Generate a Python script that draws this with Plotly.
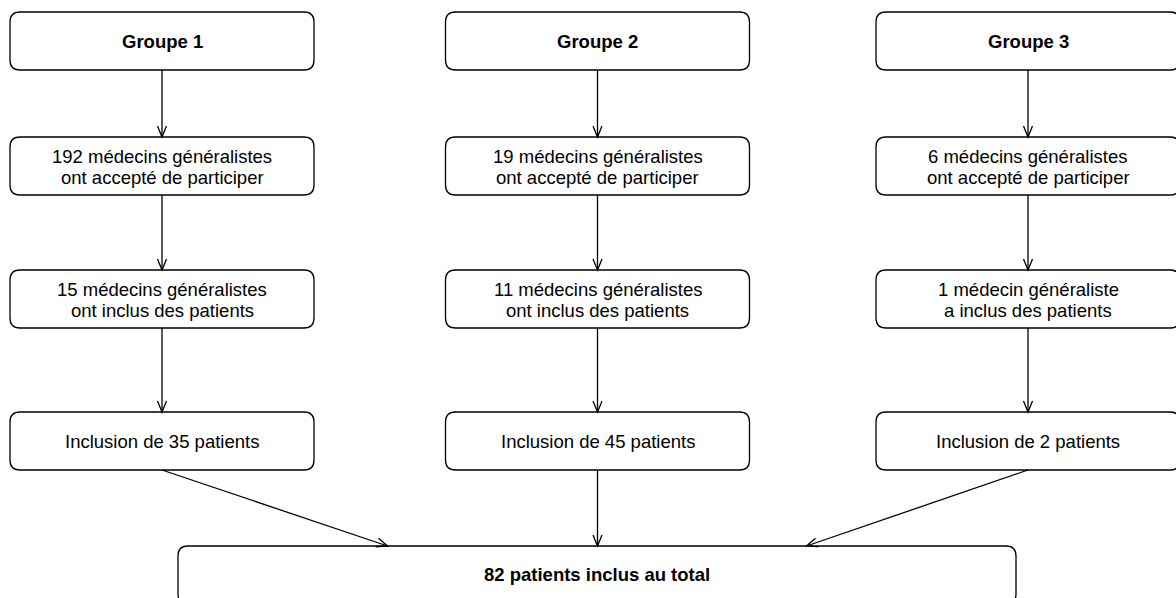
import math
import plotly.graph_objects as go

# ---- data ----
groups = ["Groupe 1", "Groupe 2", "Groupe 3"]
medecins_acceptes = [192, 19, 6]
medecins_inclueurs = [15, 11, 1]
patients_inclus = [35, 45, 2]
total_patients = 82

# ---- layout geometry (pixels) ----
W, H = 1176, 598
col_centers = [162, 597.5, 1028]
box_w, box_h = 304, 58
row_tops = [12, 137, 270, 412]
final_box = (178, 546, 1016, 604)
final_targets_dx = 209.5
radius = 10
lw = 1.3
font_family = "Liberation Sans, Arial, Helvetica, sans-serif"
fs = 18.5


def rrect(x0, y0, x1, y1, r):
    return (f"M {x0+r},{y0} L {x1-r},{y0} Q {x1},{y0} {x1},{y0+r} "
            f"L {x1},{y1-r} Q {x1},{y1} {x1-r},{y1} L {x0+r},{y1} "
            f"Q {x0},{y1} {x0},{y1-r} L {x0},{y0+r} Q {x0},{y0} {x0+r},{y0} Z")


shapes = []
annotations = []


def add_box(x0, y0, x1, y1):
    shapes.append(dict(type="path", path=rrect(x0, y0, x1, y1, radius),
                       line=dict(color="black", width=lw), fillcolor="white",
                       xref="x", yref="y", layer="below"))


def add_text(x, y, txt, bold=False):
    annotations.append(dict(x=x, y=y, xref="x", yref="y", text=f"<b>{txt}</b>" if bold else txt,
                            showarrow=False, xanchor="center", yanchor="middle",
                            font=dict(family=font_family, size=fs, color="black")))


def add_arrow(xa, ya, xb, yb, L=11, hw=4.5):
    shapes.append(dict(type="line", x0=xa, y0=ya, x1=xb, y1=yb, xref="x", yref="y",
                       line=dict(color="black", width=lw)))
    dx, dy = xb - xa, yb - ya
    d = math.hypot(dx, dy)
    ux, uy = dx / d, dy / d
    px, py = -uy, ux
    bx, by = xb - ux * L, yb - uy * L
    p1 = (bx + px * hw, by + py * hw)
    p2 = (bx - px * hw, by - py * hw)
    shapes.append(dict(type="path",
                       path=f"M {p1[0]},{p1[1]} L {xb},{yb} L {p2[0]},{p2[1]}",
                       line=dict(color="black", width=lw), xref="x", yref="y"))


row_lines = []
for i in range(3):
    n1, n2, n3 = medecins_acceptes[i], medecins_inclueurs[i], patients_inclus[i]
    l2 = [f"{n1} médecin{'s' if n1 > 1 else ''} généraliste{'s' if n1 > 1 else ''}",
          "ont accepté de participer" if n1 > 1 else "a accepté de participer"]
    l3 = [f"{n2} médecin{'s' if n2 > 1 else ''} généraliste{'s' if n2 > 1 else ''}",
          "ont inclus des patients" if n2 > 1 else "a inclus des patients"]
    l4 = [f"Inclusion de {n3} patient{'s' if n3 > 1 else ''}"]
    row_lines.append([[groups[i]], l2, l3, l4])

for i, cx in enumerate(col_centers):
    x0, x1 = cx - box_w / 2, cx + box_w / 2
    for r, top in enumerate(row_tops):
        add_box(x0, top, x1, top + box_h)
        lines = row_lines[i][r]
        cy = top + box_h / 2
        if len(lines) == 1:
            add_text(cx, cy, lines[0], bold=(r == 0))
        else:
            add_text(cx, cy - 10, lines[0])
            add_text(cx, cy + 11.5, lines[1])
        if r < len(row_tops) - 1:
            add_arrow(cx, top + box_h, cx, row_tops[r + 1])

fx0, fy0, fx1, fy1 = final_box
add_box(fx0, fy0, fx1, fy1)
fcx = (fx0 + fx1) / 2
add_text(fcx, (fy0 + fy1) / 2 - 0.5, f"{total_patients} patients inclus au total", bold=True)

bottom = row_tops[-1] + box_h
add_arrow(col_centers[0], bottom, fcx - final_targets_dx, fy0)
add_arrow(col_centers[1], bottom, col_centers[1], fy0)
add_arrow(col_centers[2], bottom, fcx + final_targets_dx, fy0)

fig = go.Figure()
fig.update_layout(
    width=W, height=H, margin=dict(l=0, r=0, t=0, b=0),
    paper_bgcolor="white", plot_bgcolor="white",
    xaxis=dict(range=[0, W], visible=False, fixedrange=True),
    yaxis=dict(range=[H, 0], visible=False, fixedrange=True),
    shapes=shapes, annotations=annotations, showlegend=False,
)
fig.write_html("out.html", config={"displayModeBar": False},
               post_script="document.body.style.margin='0px';document.body.style.overflow='hidden';")
